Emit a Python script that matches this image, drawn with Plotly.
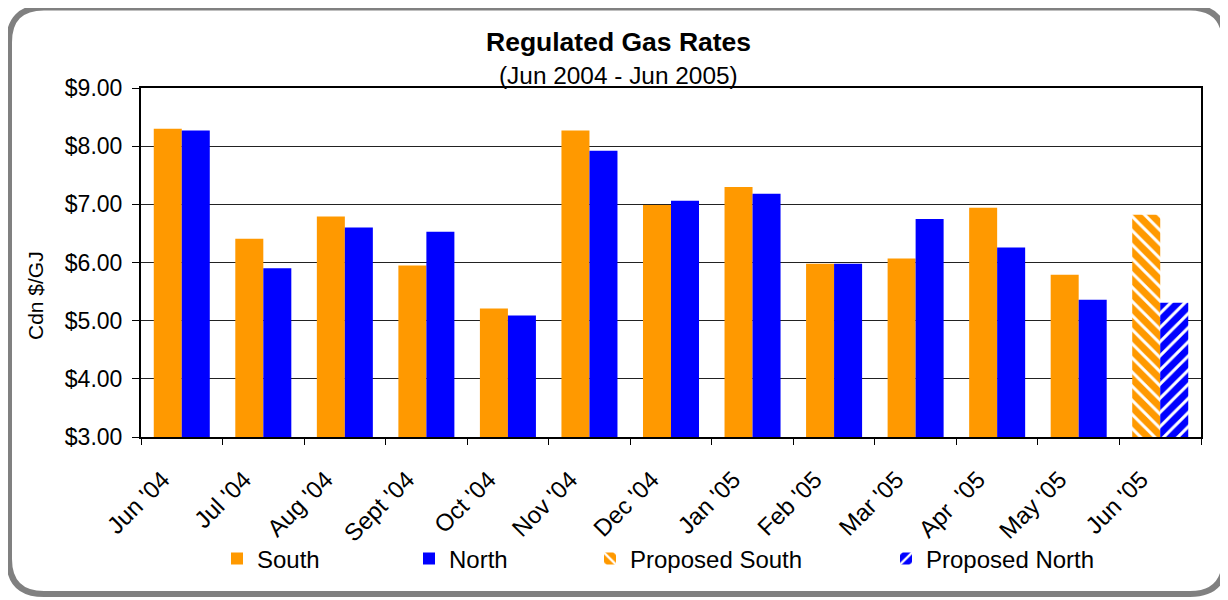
import plotly.graph_objects as go

months = ["Jun '04", "Jul '04", "Aug '04", "Sept '04", "Oct '04", "Nov '04", "Dec '04",
          "Jan '05", "Feb '05", "Mar '05", "Apr  '05", "May '05", "Jun '05"]
south = [8.30, 6.41, 6.79, 5.95, 5.21, 8.27, 6.99, 7.30, 5.98, 6.07, 6.94, 5.79, None]
north = [8.27, 5.90, 6.60, 6.53, 5.09, 7.92, 7.06, 7.18, 5.98, 6.75, 6.26, 5.36, None]
proposed_south = [None] * 12 + [6.82]
proposed_north = [None] * 12 + [5.31]

ORANGE = "#FF9900"
BLUE = "#0000FF"
FONT = "Arial, Liberation Sans, sans-serif"

# page is rendered with an 8px body margin: work in page pixels, convert to figure pixels
OFF = 8
W, H = 1228 - OFF, 600 - OFF
L, R, T, B = 141 - OFF, 1201 - OFF, 88 - OFF, 437 - OFF


def px_x(x):
    return (x - OFF - L) / (R - L)


def px_y(y):
    return (B - (y - OFF)) / (B - T)


fig = go.Figure()
fig.add_trace(go.Bar(x=months, y=south, name="South", marker_color=ORANGE,
                     marker_line_width=0, offsetgroup="s", legend="legend"))
fig.add_trace(go.Bar(x=months, y=north, name="North", marker_color=BLUE,
                     marker_line_width=0, offsetgroup="n", legend="legend2"))
fig.add_trace(go.Bar(x=months, y=proposed_south, name="Proposed South",
                     marker=dict(color=ORANGE, line_width=0,
                                 pattern=dict(shape="\\", fgcolor="white", bgcolor=ORANGE,
                                              fillmode="overlay", size=10, solidity=0.3,
                                              fgopacity=1)),
                     offsetgroup="s", legend="legend3"))
fig.add_trace(go.Bar(x=months, y=proposed_north, name="Proposed North",
                     marker=dict(color=BLUE, line_width=0,
                                 pattern=dict(shape="/", fgcolor="white", bgcolor=BLUE,
                                              fillmode="overlay", size=10, solidity=0.3,
                                              fgopacity=1)),
                     offsetgroup="n", legend="legend4"))

legend_common = dict(orientation="h", yanchor="middle", xanchor="left",
                     font=dict(family=FONT, size=24, color="black"),
                     bgcolor="rgba(0,0,0,0)", borderwidth=0, visible=True)
text_starts = [258, 450, 631, 927]
leg_y = px_y(559)

# rounded outer frame (page pixels)
x0, x1, y0, y1, rr = 9, 1225, 7.5, 594, 35
def P(x, y):
    return f"{px_x(x):.5f},{px_y(y):.5f}"
frame = (f"M {P(x0 + rr, y0)} L {P(x1 - rr, y0)} Q {P(x1, y0)} {P(x1, y0 + rr)} "
         f"L {P(x1, y1 - rr)} Q {P(x1, y1)} {P(x1 - rr, y1)} "
         f"L {P(x0 + rr, y1)} Q {P(x0, y1)} {P(x0, y1 - rr)} "
         f"L {P(x0, y0 + rr)} Q {P(x0, y0)} {P(x0 + rr, y0)} Z")

fig.update_layout(
    width=W, height=H,
    margin=dict(l=L, r=W - R, t=T, b=H - B, pad=0),
    paper_bgcolor="white", plot_bgcolor="white",
    barmode="group", bargap=0.313, bargroupgap=0,
    showlegend=True,
    font=dict(family=FONT, color="black"),
    legend=dict(x=px_x(text_starts[0] - 41), y=leg_y, **legend_common),
    legend2=dict(x=px_x(text_starts[1] - 41), y=leg_y, **legend_common),
    legend3=dict(x=px_x(text_starts[2] - 41), y=leg_y, **legend_common),
    legend4=dict(x=px_x(text_starts[3] - 41), y=leg_y, **legend_common),
    xaxis=dict(showgrid=False, showline=True, linecolor="black", linewidth=2, mirror=True,
               ticks="outside", ticklen=6, tickcolor="black", tickson="boundaries",
               tickangle=-45, ticklabelstandoff=17, ticklabelshift=-19,
               tickfont=dict(family=FONT, size=24, color="black")),
    yaxis=dict(range=[3, 9], dtick=1, tick0=3, tickprefix="$", tickformat=".2f",
               showgrid=True, gridcolor="#222222", gridwidth=1,
               showline=True, linecolor="black", linewidth=2, mirror=True,
               ticks="outside", ticklen=7, tickcolor="black", ticklabelstandoff=5,
               tickfont=dict(family=FONT, size=23, color="black"), zeroline=False),
    shapes=[dict(type="path", xref="paper", yref="paper", path=frame,
                 line=dict(color="#808080", width=6), fillcolor="rgba(0,0,0,0)", layer="above")],
    annotations=[
        dict(text="<b>Regulated Gas Rates</b>", x=px_x(618), y=px_y(42), xref="paper", yref="paper",
             showarrow=False, xanchor="center", yanchor="middle",
             font=dict(family=FONT, size=26.5, color="black")),
        dict(text="(Jun 2004 - Jun 2005)", x=px_x(618), y=px_y(75), xref="paper", yref="paper",
             showarrow=False, xanchor="center", yanchor="middle",
             font=dict(family=FONT, size=24.4, color="black")),
        dict(text="Cdn $/GJ", x=px_x(35), y=px_y(296), xref="paper", yref="paper",
             showarrow=False, xanchor="center", yanchor="middle", textangle=-90,
             font=dict(family=FONT, size=21, color="black")),
    ],
)

fig.write_html("out.html")
